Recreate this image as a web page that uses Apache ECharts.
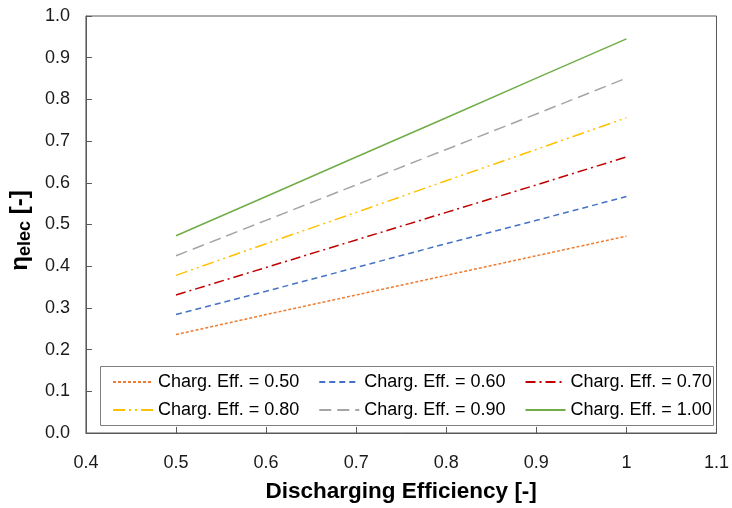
<!DOCTYPE html>
<html><head><meta charset="utf-8">
<script src="https://cdn.jsdelivr.net/npm/echarts@6/dist/echarts.min.js"></script>
<style>html,body{margin:0;padding:0;background:#fff}#c{width:732px;height:508px}</style>
</head><body><div id="c"></div>
<script>
const xValues = [0.5, 0.6, 0.7, 0.8, 0.9, 1.0];
const eff050 = [0.236, 0.284, 0.331, 0.378, 0.425, 0.472];
const eff060 = [0.284, 0.340, 0.397, 0.454, 0.510, 0.567];
const eff070 = [0.331, 0.397, 0.463, 0.529, 0.595, 0.662];
const eff080 = [0.378, 0.454, 0.529, 0.605, 0.680, 0.756];
const eff090 = [0.425, 0.510, 0.595, 0.680, 0.765, 0.851];
const eff100 = [0.473, 0.567, 0.662, 0.756, 0.851, 0.945];
const seriesNames = ['Charg. Eff. = 0.50','Charg. Eff. = 0.60','Charg. Eff. = 0.70','Charg. Eff. = 0.80','Charg. Eff. = 0.90','Charg. Eff. = 1.00'];
const seriesData = [eff050, eff060, eff070, eff080, eff090, eff100];
const colors = ['#ED7D31','#4472C4','#C00000','#FFC000','#A5A5A5','#70AD47'];
const dashes = [[3,2],[6,4],[10,4,2,4],[12,4,2,4,2,4],[12,6],'solid'];

const chart = echarts.init(document.getElementById('c'));
const font = 'Liberation Sans, Arial, sans-serif';
const legendBase = {left:112,itemWidth:40,itemHeight:12,itemGap:19,padding:0,z:10,
  itemStyle:{opacity:0},
  textStyle:{fontFamily:font,fontSize:18,color:'#000',lineHeight:20}};
chart.setOption({
  animation:false,
  grid:{left:84,right:15,top:16,bottom:71,show:true,borderColor:'#595959',borderWidth:1},
  xAxis:{type:'value',min:0.4,max:1.1,interval:0.1,
    name:'Discharging Efficiency [-]',nameLocation:'middle',nameGap:47,
    nameTextStyle:{fontFamily:font,fontSize:22.5,fontWeight:'bold',color:'#000'},
    axisLine:{lineStyle:{color:'#595959'}},
    axisTick:{inside:true,length:6,lineStyle:{color:'#595959'}},
    splitLine:{show:false},
    axisLabel:{fontFamily:font,fontSize:18,color:'#1a1a1a',margin:21,
      formatter:v=>{const r=Math.round(v*10)/10;return r===1?'1':r.toFixed(1);}}},
  yAxis:{type:'value',min:0,max:1,interval:0.1,
    name:'{a|η}{b|elec}{a| [-]}',nameLocation:'middle',nameGap:49,
    nameTextStyle:{padding:[0,12,0,0],rich:{a:{fontFamily:font,fontSize:24,fontWeight:'bold',color:'#000'},
      b:{fontFamily:font,fontSize:18,fontWeight:'bold',color:'#000',verticalAlign:'bottom',padding:[10,0,0,0]}}},
    axisLine:{show:true,lineStyle:{color:'#595959'}},
    axisTick:{show:true,inside:true,length:6,lineStyle:{color:'#595959'}},
    splitLine:{show:false},
    axisLabel:{fontFamily:font,fontSize:18,color:'#1a1a1a',margin:16,formatter:v=>v.toFixed(1)}},
  legend:[
    Object.assign({}, legendBase, {top:372, data:seriesNames.slice(0,3)}),
    Object.assign({}, legendBase, {top:400, data:seriesNames.slice(3,6)})
  ],
  graphic:[{type:'rect',shape:{x:100.5,y:366.5,width:613,height:59},style:{fill:'none',stroke:'#7f7f7f',lineWidth:1},z:1}],
  series:seriesData.map((d,i)=>({
    name:seriesNames[i],type:'line',symbol:'none',
    data:xValues.map((x,j)=>[x,d[j]]),
    lineStyle:{color:colors[i],width:1.5,type:dashes[i]},
    itemStyle:{color:colors[i]}
  }))
});
</script></body></html>
